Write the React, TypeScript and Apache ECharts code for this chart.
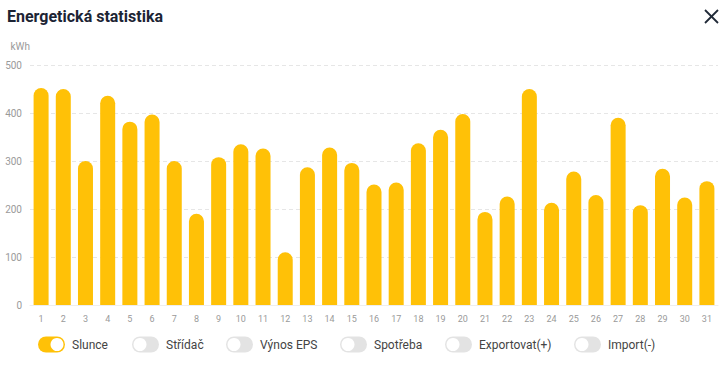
import React, { useEffect, useRef } from "react";
import * as echarts from "echarts";

const title = "Energetická statistika";
const unit = "kWh";
const days = Array.from({ length: 31 }, (_, i) => String(i + 1));
const slunce = [452, 450, 300, 436, 382, 397, 300, 190, 308, 335, 326, 110, 287, 328, 296, 251, 255, 337, 365, 398, 194, 226, 450, 213, 278, 229, 390, 208, 284, 224, 258];
const legendNames = ["Slunce", "Střídač", "Výnos EPS", "Spotřeba", "Exportovat(+)", "Import(-)"];
const legendOn = [true, false, false, false, false, false];
const legendX = [38, 132, 226, 340, 445, 574];

const FONT = "Roboto, 'Noto Sans', sans-serif";
const YELLOW = "#ffc107";

export default function App() {
  const ref = useRef<HTMLDivElement>(null);
  useEffect(() => {
    if (!ref.current) return;
    const chart = echarts.init(ref.current, null, { renderer: "svg" });
    const graphics: any[] = [
      {
        type: "text",
        left: 7,
        top: 8,
        style: { text: title, font: "bold 16px Roboto, sans-serif", fill: "#1c2434" },
      },
      {
        type: "line",
        shape: { x1: 705, y1: 10, x2: 718, y2: 23 },
        style: { stroke: "#1f2937", lineWidth: 1.8 },
      },
      {
        type: "line",
        shape: { x1: 718, y1: 10, x2: 705, y2: 23 },
        style: { stroke: "#1f2937", lineWidth: 1.8 },
      },
    ];
    legendNames.forEach((name, i) => {
      const x = legendX[i];
      const on = legendOn[i];
      graphics.push({
        type: "rect",
        shape: { x, y: 336.5, width: 27, height: 16, r: 8 },
        style: { fill: on ? YELLOW : "#e3e3e3" },
      });
      graphics.push({
        type: "circle",
        shape: { cx: on ? x + 19 : x + 8, cy: 344.5, r: 6.5 },
        style: { fill: "#ffffff" },
      });
      graphics.push({
        type: "text",
        x: x + 34,
        y: 344.5,
        style: {
          text: name,
          font: "12px " + FONT,
          fill: "#444444",
          verticalAlign: "middle",
        },
      });
    });

    chart.setOption({
      animation: false,
      grid: { left: 30, right: 8, top: 65, bottom: 65 },
      xAxis: {
        type: "category",
        data: days,
        axisLine: { lineStyle: { color: "#eeeeee" } },
        axisTick: { show: false },
        axisLabel: { color: "#9a9a9a", fontSize: 9, fontFamily: FONT, margin: 9 },
      },
      yAxis: {
        type: "value",
        min: 0,
        max: 500,
        interval: 100,
        name: unit,
        nameLocation: "end",
        nameGap: 14,
        nameTextStyle: { color: "#9a9a9a", fontSize: 10, fontFamily: FONT, align: "right" },
        axisLine: { show: false },
        axisTick: { show: false },
        axisLabel: { color: "#9a9a9a", fontSize: 10, fontFamily: FONT, margin: 8 },
        splitLine: { lineStyle: { color: "#e6e6e6", type: [4, 3] } },
      },
      series: [
        {
          name: legendNames[0],
          type: "bar",
          data: slunce,
          barWidth: 15,
          itemStyle: { color: YELLOW, borderRadius: [7.5, 7.5, 0, 0] },
        },
      ],
      graphic: graphics,
    });
    return () => chart.dispose();
  }, []);
  return (
    <div
      ref={ref}
      style={{ position: "fixed", left: 0, top: 0, width: 726, height: 370, background: "#fff" }}
    />
  );
}
